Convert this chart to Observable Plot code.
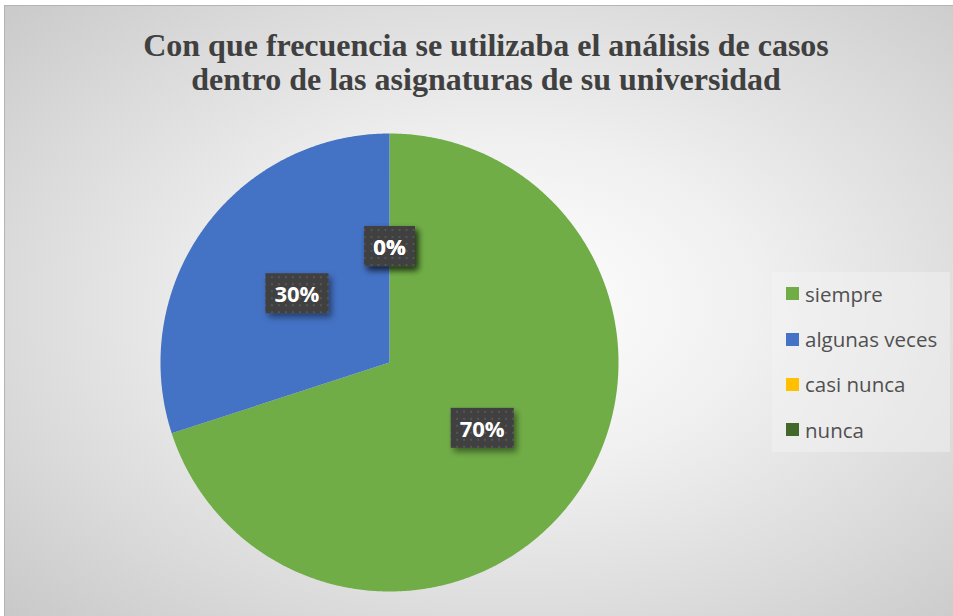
<!DOCTYPE html>
<html><head><meta charset="utf-8">
<script src="https://cdn.jsdelivr.net/npm/d3@7"></script>
<script src="https://cdn.jsdelivr.net/npm/@observablehq/plot@0.6"></script>
<style>
body{margin:0;background:#fff;}
#wrap{position:relative;width:953px;height:616px;overflow:hidden;}
#frame{position:absolute;left:4px;top:5px;width:965px;height:625px;border:1px solid #b4b4b4;box-sizing:border-box;
  background:radial-gradient(ellipse 75% 75% at 52% 48%, #ffffff 0%, #f0f0f0 35%, #dadada 70%, #c6c6c6 100%);}
#title{position:absolute;left:0;width:972px;top:28px;text-align:center;font-family:"Liberation Serif",serif;font-weight:bold;font-size:32px;color:#404040;line-height:34px;white-space:nowrap;}
#chart{position:absolute;left:0;top:0;}
#legend{position:absolute;left:772px;top:272px;width:178px;height:180px;background:rgba(245,245,245,0.45);}
.item{position:absolute;left:14px;height:24px;display:flex;align-items:center;font-family:"Open Sans",sans-serif;font-size:20.5px;color:#505050;white-space:nowrap;}
.sw{width:13px;height:13px;margin-right:6px;flex:none;}
</style></head>
<body>
<div id="wrap">
  <div id="frame"></div>
  <div id="title">Con que frecuencia se utilizaba el análisis de casos<br>dentro de las asignaturas de su universidad</div>
  <div id="chart"></div>
  <div id="legend"></div>
</div>
<script>
const categories = ["siempre", "algunas veces", "casi nunca", "nunca"];
const values = [70, 30, 0, 0];
const labels = ["70%", "30%", "0%", "0%"];
const colors = ["#70AD47", "#4472C4", "#FFC000", "#43682B"];

const total = d3.sum(values);
let cum = 0;
const slices = categories.map((c, i) => {
  const a0 = cum / total * 2 * Math.PI;
  cum += values[i];
  const a1 = cum / total * 2 * Math.PI;
  return {cat: c, value: values[i], label: labels[i], a0, a1};
});

const points = [];
for (const s of slices) {
  points.push({cat: s.cat, x: 0, y: 0});
  const n = Math.max(1, Math.ceil((s.a1 - s.a0) / (Math.PI / 360)));
  for (let k = 0; k <= n; k++) {
    const t = s.a0 + (s.a1 - s.a0) * k / n;
    points.push({cat: s.cat, x: Math.sin(t), y: Math.cos(t)});
  }
  points.push({cat: s.cat, x: 0, y: 0});
}
const labelData = slices.map(s => {
  const m = (s.a0 + s.a1) / 2;
  return {cat: s.cat, label: s.label, x: 0.5 * Math.sin(m), y: 0.5 * Math.cos(m)};
});

const W = 953, H = 616, cx = 389, cy = 362, R = 229;
const plot = Plot.plot({
  width: W, height: H,
  marginLeft: cx - R, marginRight: W - (cx + R),
  marginTop: cy - R, marginBottom: H - (cy + R),
  x: {domain: [-1, 1], axis: null},
  y: {domain: [-1, 1], axis: null},
  color: {domain: categories, range: colors},
  style: {background: "transparent", overflow: "visible"},
  marks: [
    Plot.line(points, {x: "x", y: "y", z: "cat", fill: "cat", stroke: "none", curve: "linear"}),
    Plot.text(labelData, {x: "x", y: "y", text: "label", fill: "white", fontSize: 22, fontWeight: "bold", fontFamily: "Open Sans"})
  ]
});
document.getElementById("chart").appendChild(plot);

// label boxes
const svg = d3.select(plot);
const defs = svg.insert("defs", ":first-child");
const pat = defs.append("pattern").attr("id", "dots").attr("patternUnits", "userSpaceOnUse").attr("width", 7).attr("height", 7);
pat.append("rect").attr("width", 7).attr("height", 7).attr("fill", "#404040");
pat.append("rect").attr("x", 2).attr("y", 2).attr("width", 2).attr("height", 2).attr("fill", "#555555");
const f = defs.append("filter").attr("id", "sh").attr("x", "-30%").attr("y", "-30%").attr("width", "170%").attr("height", "180%");
f.append("feDropShadow").attr("dx", 3).attr("dy", 4).attr("stdDeviation", 3).attr("flood-color", "#000").attr("flood-opacity", 0.45);
const textG = svg.select('g[aria-label="text"]');
const boxG = svg.insert("g", 'g[aria-label="text"]');
if (textG.attr("transform")) boxG.attr("transform", textG.attr("transform"));
textG.selectAll("text").each(function() {
  const b = this.getBBox();
  const w = b.width + 18, h = 40;
  const mx = b.x + b.width / 2, my = b.y + b.height / 2;
  const r = boxG.append("rect").attr("x", mx - w / 2).attr("y", my - h / 2).attr("width", w).attr("height", h)
    .attr("fill", "url(#dots)").attr("filter", "url(#sh)");
  const tr = this.getAttribute("transform");
  if (tr) r.attr("transform", tr);
});

// legend
const leg = document.getElementById("legend");
categories.forEach((c, i) => {
  const it = document.createElement("div");
  it.className = "item";
  it.style.top = (21.7 + i * 45.33 - 12) + "px";
  const sw = document.createElement("span");
  sw.className = "sw"; sw.style.background = colors[i];
  it.appendChild(sw);
  it.appendChild(document.createTextNode(c));
  leg.appendChild(it);
});
</script>
</body></html>
